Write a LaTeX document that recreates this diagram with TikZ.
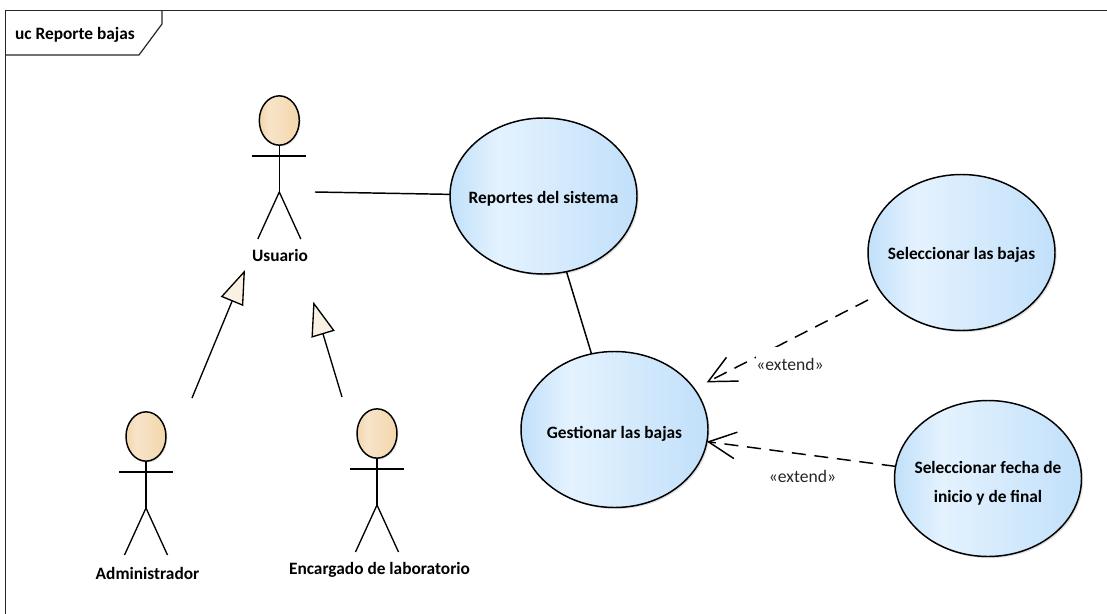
\documentclass[tikz,border=0pt]{standalone}
\usepackage{fontspec}
\setmainfont{Carlito}
\usetikzlibrary{arrows.meta,shapes.geometric,shadows}
\definecolor{caseedge}{HTML}{C1E0FA}
\definecolor{caselight}{HTML}{E4F2FE}
\definecolor{headedge}{HTML}{F3D6AA}
\definecolor{headlight}{HTML}{F8E4CA}
\definecolor{genfill}{HTML}{FBF1E3}
\pgfdeclarehorizontalshading{caseshade}{100bp}{color(0bp)=(caseedge);color(25bp)=(caseedge);color(38bp)=(caselight);color(75bp)=(caseedge);color(100bp)=(caseedge)}
\pgfdeclarehorizontalshading{headshade}{100bp}{color(0bp)=(headedge);color(25bp)=(headedge);color(38bp)=(headlight);color(75bp)=(headedge);color(100bp)=(headedge)}
\tikzset{
  x=0.75pt,y=-0.75pt,
  every node/.style={font=\fontsize{13pt}{21.75pt}\selectfont\bfseries,text=black},
  usecase/.style={ellipse,draw=black,line width=1.1pt,minimum width=140.25pt,minimum height=117pt,inner sep=0pt,outer sep=0pt,shading=caseshade,drop shadow={shadow xshift=1.2pt,shadow yshift=-1.2pt,fill=black!25}},
  acthead/.style={ellipse,draw=black,line width=1.1pt,minimum width=30pt,minimum height=37pt,inner sep=0pt,outer sep=0pt,shading=headshade,drop shadow={shadow xshift=1pt,shadow yshift=-1pt,fill=black!20}},
  actline/.style={line width=1pt,draw=black},
  assoc/.style={line width=1.1pt,draw=black},
  genlink/.style={line width=1pt,draw=black,-{Triangle[length=25.5pt,width=18pt,fill=genfill]}},
  extlink/.style={line width=1.1pt,draw=black,dash pattern=on 10.5pt off 6.5pt,-{Straight Barb[length=20.5pt,width=20pt,line width=1.1pt]}},
  extlabel/.style={font=\fontsize{13.2pt}{15pt}\selectfont,text=black!85,inner sep=0pt},
  framel/.style={line width=0.9pt,draw=black!85},
}
\newcommand{\casetext}[2][0pt]{\makebox[0pt][c]{\smash{\raisebox{#1}{#2}}}}
\newcommand{\ucactor}[3]{%
  \node[acthead] (#1head) at (#2,#3) {};
  \begin{scope}[shift={(#2,#3)}]
    \coordinate (#1hip) at (0,71.5);
    \coordinate (#1la) at (-27,35.5);
    \coordinate (#1ra) at (27,35.5);
    \coordinate (#1ll) at (-21.5,118.5);
    \coordinate (#1rl) at (21.5,118.5);
  \end{scope}
  \draw[actline] (#1head.south) -- (#1hip);
  \draw[actline] (#1la) -- (#1ra);
  \draw[actline] (#1ll) -- (#1hip) -- (#1rl);
}
\begin{document}
\begin{tikzpicture}
\useasboundingbox[fill=white] (0,0) rectangle (1107,614);
% frame
\coordinate (ftr) at (1107,10.5);
\coordinate (ftl) at (5.5,10.5);
\coordinate (fbl) at (5.5,614);
\coordinate (tagb) at (5.5,55);
\draw[framel] (ftr) -- (ftl) -- (fbl);
\draw[framel] (tagb) -- (139,55) -- (162,24) -- (162,10.5);
\node[anchor=center] (title) at (75,34.5) {uc Reporte bajas};
% use cases
\node[usecase] (rep) at (543.5,196) {\casetext[-5.25pt]{Reportes del sistema}};
\node[usecase] (gest) at (614.5,429.5) {\casetext[-6.4pt]{Gestionar las bajas}};
\node[usecase] (sel) at (961.5,252.5) {\casetext[-4.9pt]{Seleccionar las bajas}};
\node[usecase] (fecha) at (988,478.5) {\casetext[-5.5pt]{\begin{tabular}{@{}c@{}}Seleccionar fecha de\\inicio y de final\end{tabular}}};
% actors
\ucactor{usu}{279.3}{120.5}
\ucactor{adm}{146}{436.5}
\ucactor{enc}{377}{433.5}
\node (usul) at (280,255) {Usuario};
\node (adml) at (147.5,573) {Administrador};
\node (encl) at (379.5,570) {Encargado de laboratorio};
% connectors
\coordinate (usufree) at (315,192);
\draw[assoc] (usufree) -- (rep);
\draw[assoc] (rep) -- (gest);
\coordinate (admfree) at (192,398);
\coordinate (admtip) at (245,270);
\coordinate (encfree) at (342,397);
\coordinate (enctip) at (313.3,301.7);
\draw[genlink] (admfree) -- (admtip);
\draw[genlink] (encfree) -- (enctip);
\coordinate (selfree) at (868,300);
\draw[extlink,shorten >=10.5pt] (selfree) -- (gest);
\draw[extlink] (fecha) -- (gest);
\node[extlabel,fill=white,minimum height=25.5pt] (ext1) at (790,364) {«extend»};
\node[extlabel] (ext2) at (802.5,476) {«extend»};
\end{tikzpicture}
\end{document}
